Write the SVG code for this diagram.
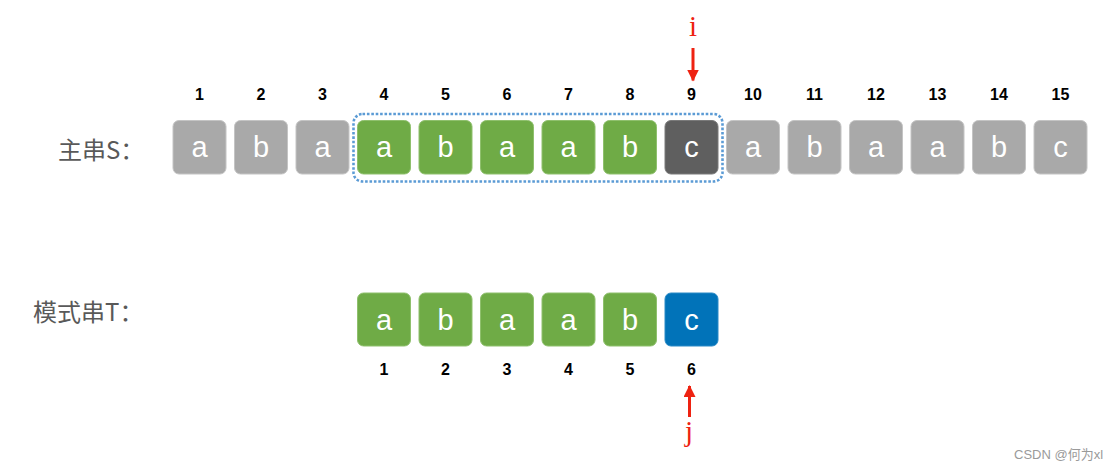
<svg xmlns="http://www.w3.org/2000/svg" width="1119" height="471" viewBox="0 0 1119 471">
<style>
.bx{stroke-width:1}
.g{fill:#a9a9a9;stroke:#c4c4c4}
.gr{fill:#6fab46;stroke:#8fc06d}
.dk{fill:#5f5f5f;stroke:#7a7a7a}
.bl{fill:#0173b9;stroke:#2a8ac6}
.ch{font-family:"Liberation Sans",Arial,sans-serif;font-size:29px;fill:#fff;text-anchor:middle}
.num{font-family:"Liberation Sans",Arial,sans-serif;font-size:16px;font-weight:bold;fill:#000;text-anchor:middle}
.lbl{font-family:"Noto Sans CJK SC","Noto Sans",sans-serif;font-size:24px;fill:#595959}
.ptr{font-family:"Liberation Serif","Times New Roman",serif;font-size:29px;fill:#ee2211;text-anchor:middle}
.arr{stroke:#ee2211;stroke-width:3;fill:none}
.wm{font-family:"Liberation Sans","Noto Sans CJK SC",sans-serif;font-size:13px;fill:#9a9a9a}
</style>
<defs>
<marker id="ah" viewBox="0 0 12 12" refX="11" refY="6" markerWidth="12" markerHeight="12" markerUnits="userSpaceOnUse" orient="auto">
<path d="M0,0 L12,6 L0,12 Z" fill="#ee2211"/>
</marker>
</defs>
<rect width="1119" height="471" fill="#fff"/>

<g id="labels">
<text class="lbl" x="58" y="159">主串S：</text>
<text class="lbl" x="33" y="321">模式串T：</text>
</g>

<g id="window">
<rect x="353.5" y="114" width="369" height="67.5" rx="9" fill="none" stroke="#5b9bd5" stroke-width="2.6" stroke-dasharray="2.6 1.8"/>
</g>

<g id="S-numbers">
<text class="num" x="199.5" y="100">1</text>
<text class="num" x="261" y="100">2</text>
<text class="num" x="322.5" y="100">3</text>
<text class="num" x="384" y="100">4</text>
<text class="num" x="445.5" y="100">5</text>
<text class="num" x="507" y="100">6</text>
<text class="num" x="568.5" y="100">7</text>
<text class="num" x="630" y="100">8</text>
<text class="num" x="691.5" y="100">9</text>
<text class="num" x="753" y="100">10</text>
<text class="num" x="814.5" y="100">11</text>
<text class="num" x="876" y="100">12</text>
<text class="num" x="937.5" y="100">13</text>
<text class="num" x="999" y="100">14</text>
<text class="num" x="1060.5" y="100">15</text>
</g>

<g id="S1"><rect class="bx g" x="173" y="120.5" width="53" height="53.5" rx="6"/><text class="ch" x="199.5" y="157">a</text></g>
<g id="S2"><rect class="bx g" x="234.5" y="120.5" width="53" height="53.5" rx="6"/><text class="ch" x="261" y="157">b</text></g>
<g id="S3"><rect class="bx g" x="296" y="120.5" width="53" height="53.5" rx="6"/><text class="ch" x="322.5" y="157">a</text></g>
<g id="S4"><rect class="bx gr" x="357.5" y="120.5" width="53" height="53.5" rx="6"/><text class="ch" x="384" y="157">a</text></g>
<g id="S5"><rect class="bx gr" x="419" y="120.5" width="53" height="53.5" rx="6"/><text class="ch" x="445.5" y="157">b</text></g>
<g id="S6"><rect class="bx gr" x="480.5" y="120.5" width="53" height="53.5" rx="6"/><text class="ch" x="507" y="157">a</text></g>
<g id="S7"><rect class="bx gr" x="542" y="120.5" width="53" height="53.5" rx="6"/><text class="ch" x="568.5" y="157">a</text></g>
<g id="S8"><rect class="bx gr" x="603.5" y="120.5" width="53" height="53.5" rx="6"/><text class="ch" x="630" y="157">b</text></g>
<g id="S9"><rect class="bx dk" x="665" y="120.5" width="53" height="53.5" rx="6"/><text class="ch" x="691.5" y="157">c</text></g>
<g id="S10"><rect class="bx g" x="726.5" y="120.5" width="53" height="53.5" rx="6"/><text class="ch" x="753" y="157">a</text></g>
<g id="S11"><rect class="bx g" x="788" y="120.5" width="53" height="53.5" rx="6"/><text class="ch" x="814.5" y="157">b</text></g>
<g id="S12"><rect class="bx g" x="849.5" y="120.5" width="53" height="53.5" rx="6"/><text class="ch" x="876" y="157">a</text></g>
<g id="S13"><rect class="bx g" x="911" y="120.5" width="53" height="53.5" rx="6"/><text class="ch" x="937.5" y="157">a</text></g>
<g id="S14"><rect class="bx g" x="972.5" y="120.5" width="53" height="53.5" rx="6"/><text class="ch" x="999" y="157">b</text></g>
<g id="S15"><rect class="bx g" x="1034" y="120.5" width="53" height="53.5" rx="6"/><text class="ch" x="1060.5" y="157">c</text></g>

<g id="T1"><rect class="bx gr" x="357.5" y="293" width="53" height="53" rx="6"/><text class="ch" x="384" y="330">a</text></g>
<g id="T2"><rect class="bx gr" x="419" y="293" width="53" height="53" rx="6"/><text class="ch" x="445.5" y="330">b</text></g>
<g id="T3"><rect class="bx gr" x="480.5" y="293" width="53" height="53" rx="6"/><text class="ch" x="507" y="330">a</text></g>
<g id="T4"><rect class="bx gr" x="542" y="293" width="53" height="53" rx="6"/><text class="ch" x="568.5" y="330">a</text></g>
<g id="T5"><rect class="bx gr" x="603.5" y="293" width="53" height="53" rx="6"/><text class="ch" x="630" y="330">b</text></g>
<g id="T6"><rect class="bx bl" x="665" y="293" width="53" height="53" rx="6"/><text class="ch" x="691.5" y="330">c</text></g>

<g id="T-numbers">
<text class="num" x="384" y="375">1</text>
<text class="num" x="445.5" y="375">2</text>
<text class="num" x="507" y="375">3</text>
<text class="num" x="568.5" y="375">4</text>
<text class="num" x="630" y="375">5</text>
<text class="num" x="691.5" y="375">6</text>
</g>

<g id="pointer-i"><text class="ptr" x="693" y="36">i</text></g>
<g id="pointer-j"><text class="ptr" x="689" y="441">j</text></g>

<g id="connectors">
<line class="arr" x1="693" y1="48" x2="693" y2="80.5" marker-end="url(#ah)"/>
<line class="arr" x1="689.5" y1="417" x2="689.5" y2="386" marker-end="url(#ah)"/>
</g>

<text class="wm" x="1014" y="459">CSDN @何为xl</text>
</svg>
